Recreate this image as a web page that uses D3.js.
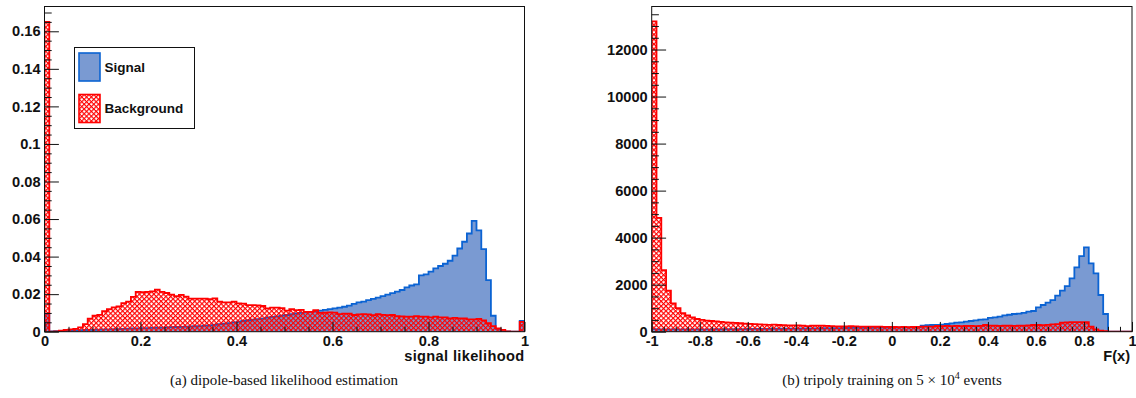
<!DOCTYPE html>
<html>
<head>
<meta charset="utf-8">
<script src="https://cdn.jsdelivr.net/npm/d3@7"></script>
<style>
  body { margin: 0; background: #fff; }
  svg { display: block; }
</style>
</head>
<body>
<svg id="chart" width="1136" height="398"></svg>
<script>
// ---- data: 100-bin histograms ----
// (a) dipole-based likelihood, x in [0, 1]
const likeSignal = [
  0.0095, 0.0002, 0.0003, 0.0004, 0.0005, 0.0006, 0.0007, 0.0008, 0.0009, 0.0010,
  0.0010, 0.0011, 0.0012, 0.0012, 0.0013, 0.0014, 0.0015, 0.0016, 0.0017, 0.0018,
  0.0019, 0.0019, 0.0020, 0.0021, 0.0022, 0.0023, 0.0024, 0.0025, 0.0026, 0.0027,
  0.0028, 0.0029, 0.0030, 0.0032, 0.0034, 0.0037, 0.0040, 0.0043, 0.0046, 0.0050,
  0.0053, 0.0057, 0.0061, 0.0064, 0.0067, 0.0070, 0.0075, 0.0079, 0.0082, 0.0086,
  0.0089, 0.0093, 0.0097, 0.0100, 0.0103, 0.0106, 0.0109, 0.0112, 0.0116, 0.0120,
  0.0124, 0.0128, 0.0133, 0.0139, 0.0148, 0.0156, 0.0160, 0.0168, 0.0175, 0.0181,
  0.0190, 0.0197, 0.0205, 0.0213, 0.0222, 0.0236, 0.0246, 0.0252, 0.0300, 0.0305,
  0.0320, 0.0337, 0.0350, 0.0362, 0.0378, 0.0405, 0.0443, 0.0479, 0.0523, 0.0590,
  0.0540, 0.0440, 0.0275, 0.0085, 0.0015, 0.0002, 0.0001, 0, 0, 0.0057
];
const likeBackground = [
  0.165, 0, 0.0002, 0.0005, 0.0010, 0.0012, 0.0015, 0.0023, 0.0040, 0.0070,
  0.0085, 0.0090, 0.0110, 0.0120, 0.0130, 0.0135, 0.0152, 0.0160, 0.0185, 0.0212,
  0.0210, 0.0212, 0.0215, 0.0224, 0.0212, 0.0206, 0.0197, 0.0190, 0.0196, 0.0187,
  0.0176, 0.0176, 0.0176, 0.0176, 0.0174, 0.0178, 0.0160, 0.0156, 0.0156, 0.0160,
  0.0151, 0.0150, 0.0142, 0.0142, 0.0140, 0.0137, 0.0124, 0.0128, 0.0128, 0.0126,
  0.0112, 0.0120, 0.0115, 0.0116, 0.0106, 0.0106, 0.0115, 0.0100, 0.0101, 0.0103,
  0.0102, 0.0094, 0.0096, 0.0096, 0.0089, 0.0092, 0.0094, 0.0092, 0.0088, 0.0094,
  0.0090, 0.0088, 0.0089, 0.0083, 0.0082, 0.0080, 0.0080, 0.0083, 0.0080, 0.0080,
  0.0076, 0.0080, 0.0076, 0.0076, 0.0071, 0.0074, 0.0071, 0.0071, 0.0066, 0.0066,
  0.0068, 0.0060, 0.0045, 0.0030, 0.0018, 0.0010, 0.0002, 0, 0, 0.0052
];
// (b) tripoly output F(x), x in [-1, 1]
const tripSignal = [
  110, 96, 95, 94, 96, 95, 97, 96, 98, 99,
  100, 102, 101, 104, 103, 106, 107, 108, 111, 112,
  114, 117, 118, 121, 122, 125, 126, 129, 130, 133,
  134, 137, 138, 141, 142, 146, 148, 150, 153, 155,
  158, 161, 162, 165, 166, 169, 170, 173, 174, 177,
  178, 181, 183, 187, 190, 200, 255, 275, 285, 290,
  300, 327, 350, 384, 400, 430, 455, 480, 510, 525,
  590, 610, 640, 695, 720, 752, 770, 800, 851, 880,
  1035, 1135, 1234, 1347, 1531, 1744, 1942, 2268, 2735, 3216,
  3584, 2905, 2480, 1560, 752, 0, 0, 0, 0, 0
];
const tripBackground = [
  13200, 4840, 2620, 1741, 1206, 1000, 790, 690, 610, 540,
  500, 470, 455, 440, 420, 400, 390, 375, 360, 345,
  330, 320, 315, 305, 290, 300, 285, 280, 270, 265,
  270, 255, 240, 255, 260, 255, 250, 235, 230, 225,
  230, 235, 225, 220, 215, 220, 215, 210, 205, 205,
  200, 195, 200, 195, 200, 205, 214, 214, 214, 242,
  240, 245, 240, 245, 240, 242, 245, 240, 250, 285,
  255, 255, 250, 260, 255, 250, 260, 255, 265, 285,
  285, 280, 290, 313, 320, 383, 395, 410, 405, 410,
  410, 214, 100, 43, 20, 0, 0, 0, 0, 0
];

// ---- axes / labels ----
const likeXTicks = [0, 0.2, 0.4, 0.6, 0.8, 1];
const likeXMinor = [0.05, 0.1, 0.15, 0.25, 0.3, 0.35, 0.45, 0.5, 0.55, 0.65, 0.7, 0.75, 0.85, 0.9, 0.95];
const likeYTicks = [0, 0.02, 0.04, 0.06, 0.08, 0.1, 0.12, 0.14, 0.16];
const likeYMinor = [0.005, 0.01, 0.015, 0.025, 0.03, 0.035, 0.045, 0.05, 0.055, 0.065, 0.07, 0.075,
  0.085, 0.09, 0.095, 0.105, 0.11, 0.115, 0.125, 0.13, 0.135, 0.145, 0.15, 0.155, 0.165, 0.17];
const tripXTicks = [-1, -0.8, -0.6, -0.4, -0.2, 0, 0.2, 0.4, 0.6, 0.8, 1];
const tripXMinor = [-0.95, -0.9, -0.85, -0.75, -0.7, -0.65, -0.55, -0.5, -0.45, -0.35, -0.3, -0.25,
  -0.15, -0.1, -0.05, 0.05, 0.1, 0.15, 0.25, 0.3, 0.35, 0.45, 0.5, 0.55, 0.65, 0.7, 0.75, 0.85, 0.9, 0.95];
const tripYTicks = [0, 2000, 4000, 6000, 8000, 10000, 12000];
const tripYMinor = [500, 1000, 1500, 2500, 3000, 3500, 4500, 5000, 5500, 6500, 7000, 7500,
  8500, 9000, 9500, 10500, 11000, 11500, 12500, 13000, 13500];
const legendLabels = ["Signal", "Background"];
const likeXTitle = "signal likelihood";
const tripXTitle = "F(x)";
const captionA = "(a) dipole-based likelihood estimation";

// ---- styles ----
const BLUE_FILL = "#7a9ad2";
const BLUE_LINE = "#0b63d3";
const RED = "#ff0000";
const SANS = "'Liberation Sans', Arial, Helvetica, sans-serif";
const SERIF = "'Liberation Serif', 'Times New Roman', serif";

const svg = d3.select("#chart");
const defs = svg.append("defs");

// cross-hatch used for the background histogram
const hs = 3.4, hw = 1.15;
const pat = defs.append("pattern")
  .attr("id", "xhatch")
  .attr("patternUnits", "userSpaceOnUse")
  .attr("width", hs).attr("height", hs)
  .attr("patternTransform", "rotate(45)");
pat.append("rect").attr("width", hs).attr("height", hw).attr("fill", RED);
pat.append("rect").attr("width", hw).attr("height", hs).attr("fill", RED);

const fmt = v => String(+v.toFixed(3));

function stepPoints(values, x0, x1) {
  const n = values.length, w = (x1 - x0) / n;
  const pts = [[x0, 0]];
  values.forEach((v, i) => { pts.push([x0 + i * w, v]); pts.push([x0 + (i + 1) * w, v]); });
  pts.push([x1, 0]);
  return pts;
}

function panel(opt) {
  const g = svg.append("g");
  const x = d3.scaleLinear().domain(opt.xDomain).range([opt.left, opt.right]);
  const y = d3.scaleLinear().domain([0, opt.yMax]).range([opt.bottom, opt.top]);
  const line = d3.line().x(d => x(d[0])).y(d => y(d[1]));

  const clipId = "clip" + opt.id;
  defs.append("clipPath").attr("id", clipId)
    .append("rect").attr("x", opt.left).attr("y", opt.top)
    .attr("width", opt.right - opt.left).attr("height", opt.bottom - opt.top);
  const plot = g.append("g").attr("clip-path", `url(#${clipId})`);

  const sig = stepPoints(opt.signal, opt.xDomain[0], opt.xDomain[1]);
  const bkg = stepPoints(opt.background, opt.xDomain[0], opt.xDomain[1]);

  plot.append("path").attr("d", line(sig) + "Z").attr("fill", BLUE_FILL).attr("stroke", "none");
  plot.append("path").attr("d", line(sig)).attr("fill", "none")
    .attr("stroke", BLUE_LINE).attr("stroke-width", 1.8).attr("stroke-linejoin", "miter");
  plot.append("path").attr("d", line(bkg) + "Z").attr("fill", "url(#xhatch)").attr("stroke", "none");
  plot.append("path").attr("d", line(bkg)).attr("fill", "none")
    .attr("stroke", RED).attr("stroke-width", 1.8).attr("stroke-linejoin", "miter");

  // axes, ticks pointing into the frame
  const yLen = 0.03 * (opt.right - opt.left);
  const xLen = 0.03 * (opt.bottom - opt.top);
  const styleAxis = sel => {
    sel.select(".domain").remove();
    sel.selectAll("line").attr("stroke", "#111").attr("stroke-width", 1);
    sel.selectAll("text").attr("font-family", SANS).attr("font-weight", "bold")
      .attr("font-size", 14.6).attr("fill", "#111");
  };
  g.append("g").attr("transform", `translate(${opt.left},0)`)
    .call(d3.axisLeft(y).tickValues(opt.yMinor).tickSize(-yLen / 2).tickFormat(""))
    .call(styleAxis);
  g.append("g").attr("transform", `translate(${opt.left},0)`)
    .call(d3.axisLeft(y).tickValues(opt.yTicks).tickSize(-yLen).tickPadding(4).tickFormat(fmt))
    .call(styleAxis);
  g.append("g").attr("transform", `translate(0,${opt.bottom})`)
    .call(d3.axisBottom(x).tickValues(opt.xMinor).tickSize(-xLen / 2).tickFormat(""))
    .call(styleAxis);
  const xa = g.append("g").attr("transform", `translate(0,${opt.bottom})`)
    .call(d3.axisBottom(x).tickValues(opt.xTicks).tickSize(-xLen).tickPadding(4).tickFormat(fmt))
    .call(styleAxis);
  xa.selectAll("text").attr("dy", "0.72em").attr("y", 4);

  // frame
  g.append("rect").attr("x", opt.left).attr("y", opt.top)
    .attr("width", opt.right - opt.left).attr("height", opt.bottom - opt.top)
    .attr("fill", "none").attr("stroke", "#111").attr("stroke-width", 1);

  // x title
  g.append("text").attr("x", opt.titleX).attr("y", opt.titleY)
    .attr("text-anchor", "end").attr("font-family", SANS).attr("font-weight", "bold")
    .attr("font-size", 14.6).attr("letter-spacing", opt.titleSpacing).attr("fill", "#111")
    .text(opt.title);
  return { x, y, g };
}

panel({
  id: "a", left: 44.5, right: 524.5, top: 6.5, bottom: 331.7,
  xDomain: [0, 1], yMax: 0.1732,
  signal: likeSignal, background: likeBackground,
  xTicks: likeXTicks, xMinor: likeXMinor, yTicks: likeYTicks, yMinor: likeYMinor,
  title: likeXTitle, titleX: 524.5, titleY: 360.5, titleSpacing: 0.35
});
panel({
  id: "b", left: 651.7, right: 1132, top: 6.5, bottom: 331.7,
  xDomain: [-1, 1], yMax: 13830,
  signal: tripSignal, background: tripBackground,
  xTicks: tripXTicks, xMinor: tripXMinor, yTicks: tripYTicks, yMinor: tripYMinor,
  title: tripXTitle, titleX: 1130, titleY: 361, titleSpacing: 0
});

// legend
const lg = svg.append("g");
lg.append("rect").attr("x", 74.5).attr("y", 47.5).attr("width", 120).attr("height", 81)
  .attr("fill", "#fff").attr("stroke", "#111").attr("stroke-width", 1);
const swatches = [
  { fill: BLUE_FILL, stroke: BLUE_LINE, y: 53 },
  { fill: "url(#xhatch)", stroke: RED, y: 94.5 }
];
legendLabels.forEach((lab, i) => {
  const s = swatches[i];
  lg.append("rect").attr("x", 79).attr("y", s.y).attr("width", 21).attr("height", 28)
    .attr("fill", s.fill).attr("stroke", s.stroke).attr("stroke-width", 1.6);
  lg.append("text").attr("x", 104.5).attr("y", s.y + 14).attr("dy", "0.35em")
    .attr("font-family", SANS).attr("font-weight", "bold").attr("font-size", 13.5)
    .attr("fill", "#111").text(lab);
});

// sub-figure captions
svg.append("text").attr("x", 284).attr("y", 385).attr("text-anchor", "middle")
  .attr("font-family", SERIF).attr("font-size", 15).attr("fill", "#111").text(captionA);
const capB = svg.append("text").attr("x", 892).attr("y", 385).attr("text-anchor", "middle")
  .attr("font-family", SERIF).attr("font-size", 15).attr("fill", "#111");
capB.append("tspan").text("(b) tripoly training on 5 \u00d7 10");
capB.append("tspan").attr("font-size", 10).attr("dy", -6).text("4");
capB.append("tspan").attr("dy", 6).text(" events");
</script>
</body>
</html>
